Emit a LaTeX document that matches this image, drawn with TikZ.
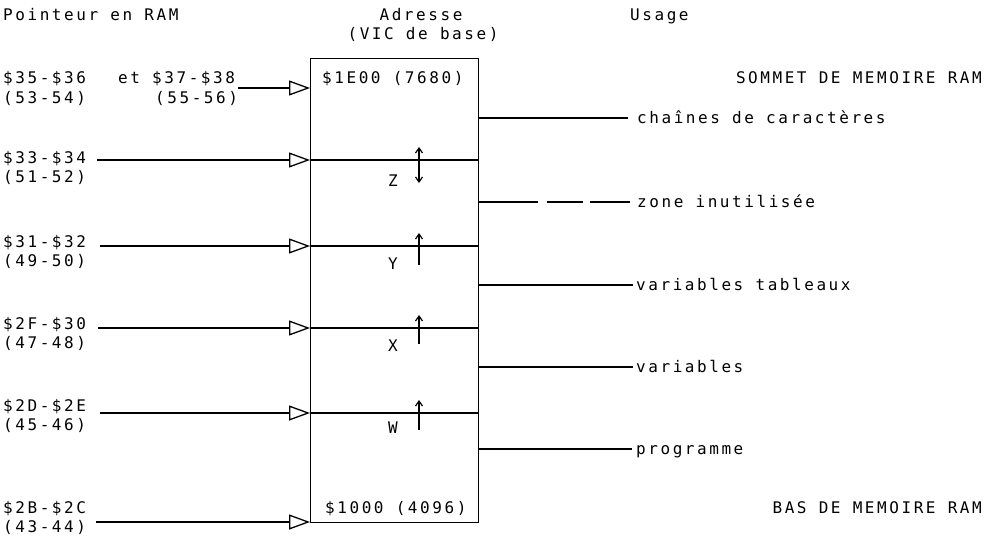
\documentclass[tikz,border=0pt]{standalone}
\usepackage{fontspec}
\setmainfont[LetterSpace=16]{DejaVu Sans Mono}
\usetikzlibrary{arrows.meta}

\begin{document}
\begin{tikzpicture}[x=1pt,y=-1pt,
  font=\fontsize{16}{19}\selectfont,
  txt/.style={anchor=base west,inner sep=0pt},
  ctr/.style={anchor=base,inner sep=0pt},
  rgt/.style={anchor=base east,inner sep=0pt},
  wire/.style={line width=1.2pt},
  ptr/.style={wire,-{Triangle[open,length=21pt,width=15pt,line width=1.3pt]}},
  upmove/.style={line width=1.2pt,-{Straight Barb[length=5pt,width=7pt]}},
  bothmove/.style={line width=1.2pt,{Straight Barb[length=5pt,width=7pt]}-{Straight Barb[length=5pt,width=7pt]}}]
\useasboundingbox (0,0) rectangle (993,538);

% column headings
\node[txt] (hptr) at (3,20) {Pointeur en RAM};
\node[ctr] (hadr) at (421,20) {Adresse};
\node[ctr] (hvic) at (423,39) {(VIC de base)};
\node[txt] (huse) at (630,20) {Usage};

% memory block
\node[draw,line width=1.2pt,minimum width=168pt,minimum height=464pt,
      anchor=north west,inner sep=0pt] (mem) at (310,58) {};
\node[txt] (top) at (322,83) {\$1E00 (7680)};
\node[txt] (bot) at (325,513) {\$1000 (4096)};
\node[rgt] (sommet) at (982,83) {SOMMET DE MEMOIRE RAM};
\node[rgt] (bas) at (982,513) {BAS DE MEMOIRE RAM};

% boundaries between zones
\foreach \yy in {160,246,328,413}
  \draw[wire] (310,\yy) -- (478,\yy);

% pointers
\node[txt] (p35) at (3,83) {\$35-\$36};
\node[txt] (p35d) at (3,103) {(53-54)};
\node[txt] (p37) at (118,83) {et \$37-\$38};
\node[txt] (p37d) at (155,103) {(55-56)};
\coordinate (s37) at (238,88);
\coordinate (e37) at (310,88);
\draw[ptr] (s37) -- (e37);

\node[txt] (p33) at (3,163) {\$33-\$34};
\node[txt] (p33d) at (3,182) {(51-52)};
\coordinate (s33) at (97,160);
\coordinate (e33) at (310,160);
\draw[ptr] (s33) -- (e33);

\node[txt] (p31) at (3,247) {\$31-\$32};
\node[txt] (p31d) at (3,266) {(49-50)};
\coordinate (s31) at (100,246);
\coordinate (e31) at (310,246);
\draw[ptr] (s31) -- (e31);

\node[txt] (p2f) at (3,329) {\$2F-\$30};
\node[txt] (p2fd) at (3,348) {(47-48)};
\coordinate (s2f) at (98,328);
\coordinate (e2f) at (310,328);
\draw[ptr] (s2f) -- (e2f);

\node[txt] (p2d) at (3,411) {\$2D-\$2E};
\node[txt] (p2dd) at (3,430) {(45-46)};
\coordinate (s2d) at (100,413);
\coordinate (e2d) at (310,413);
\draw[ptr] (s2d) -- (e2d);

\node[txt] (p2b) at (3,513) {\$2B-\$2C};
\node[txt] (p2bd) at (3,532) {(43-44)};
\coordinate (s2b) at (96,522);
\coordinate (e2b) at (310,522);
\draw[ptr] (s2b) -- (e2b);

% moving boundaries
\node[ctr] (lz) at (393,186) {Z};
\draw[bothmove] (419,183) -- (419,147);
\node[ctr] (ly) at (393,269) {Y};
\draw[upmove] (419,265) -- (419,233);
\node[ctr] (lx) at (393,351) {X};
\draw[upmove] (419,344) -- (419,315);
\node[ctr] (lw) at (393,433) {W};
\draw[upmove] (419,430) -- (419,400);

% usage of each zone
\node[txt] (u1) at (637,123) {chaînes de caractères};
\draw[wire] (478,118) -- (628,118);
\node[txt] (u2) at (637,207) {zone inutilisée};
\draw[wire] (478,202) -- (538,202);
\draw[wire] (547,202) -- (583,202);
\draw[wire] (590,202) -- (630,202);
\node[txt] (u3) at (636,290) {variables tableaux};
\draw[wire] (478,285) -- (633,285);
\node[txt] (u4) at (636,372) {variables};
\draw[wire] (478,367) -- (633,367);
\node[txt] (u5) at (636,454) {programme};
\draw[wire] (478,449) -- (632,449);
\end{tikzpicture}
\end{document}
